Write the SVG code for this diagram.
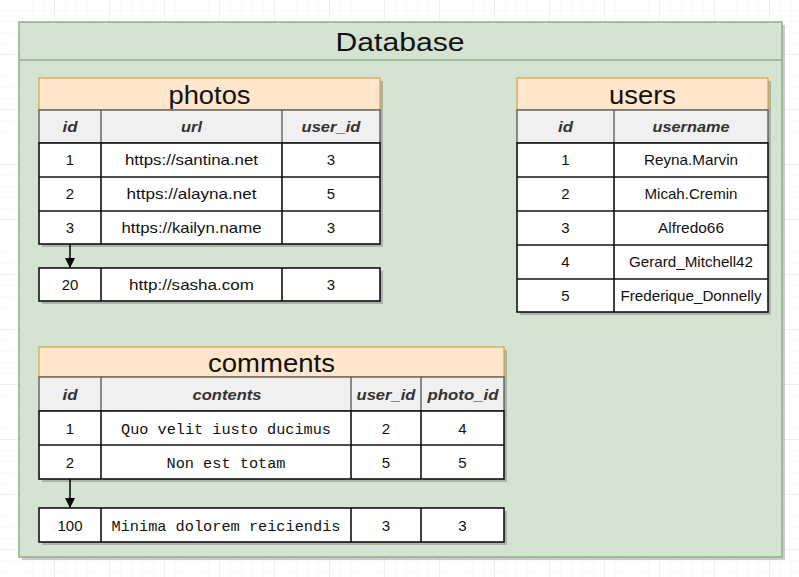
<svg xmlns="http://www.w3.org/2000/svg" width="799" height="577" viewBox="0 0 799 577">
<defs>
<pattern id="minor" width="11" height="11" patternUnits="userSpaceOnUse"><path d="M11 0V11M0 11H11" fill="none" stroke="#f4f4f4" stroke-width="1"/></pattern>
<pattern id="major" width="55" height="55" patternUnits="userSpaceOnUse"><path d="M55 0V55M0 55H55" fill="none" stroke="#e4e4e4" stroke-width="1"/></pattern>
<marker id="arr" viewBox="0 0 10 10" refX="9" refY="5" markerWidth="10" markerHeight="10" markerUnits="userSpaceOnUse" orient="auto"><path d="M0 0L10 5L0 10Z" fill="#000"/></marker>
</defs>
<style>
.sh{fill:#000;opacity:0.2}
.title{fill:#ffe6cc;stroke:#d6a84a;stroke-width:1.3}
.hdr{fill:#f0f0f0;stroke:#555;stroke-width:1.3}
.row{fill:#fff;stroke:#111;stroke-width:1.6}
.t{font-family:"Liberation Sans",Arial,sans-serif;text-anchor:middle;fill:#111}
.tt{font-size:26px}
.h{font-size:15px;font-weight:bold;font-style:italic;fill:#333}
.d{font-size:15px}
.m{font-family:"Liberation Mono","Courier New",monospace;font-size:14px;text-anchor:middle;fill:#111}
.ln{stroke:#111;stroke-width:1.6}
.hl{stroke:#555;stroke-width:1.3}
</style>
<rect width="799" height="577" fill="#fff"/>
<rect width="799" height="577" fill="url(#minor)"/>
<rect width="799" height="577" fill="url(#major)"/>

<g id="database">
<rect x="22" y="25" width="763" height="535" class="sh"/>
<rect x="19" y="22" width="763" height="535" fill="#d5e3d3" stroke="#8fad88" stroke-width="1.5"/>
<line x1="19" y1="60" x2="782" y2="60" stroke="#8fad88" stroke-width="1.5"/>
<text x="400" y="51" class="t" font-size="26" textLength="129" lengthAdjust="spacingAndGlyphs">Database</text>
</g>

<g id="photos">
<rect x="42" y="81" width="341" height="166" class="sh"/>
<rect x="39" y="78" width="341" height="32" class="title"/>
<text x="209.5" y="103.5" class="t tt" textLength="82" lengthAdjust="spacingAndGlyphs">photos</text>
<rect x="39" y="110" width="341" height="33" class="hdr"/>
<line x1="101" y1="110" x2="101" y2="143" class="hl"/>
<line x1="282" y1="110" x2="282" y2="143" class="hl"/>
<text x="70" y="132" class="t h" textLength="15" lengthAdjust="spacingAndGlyphs">id</text>
<text x="191.5" y="132" class="t h" textLength="21" lengthAdjust="spacingAndGlyphs">url</text>
<text x="331" y="132" class="t h" textLength="59" lengthAdjust="spacingAndGlyphs">user_id</text>
<rect x="39" y="143" width="341" height="101" class="row"/>
<line x1="39" y1="177" x2="380" y2="177" class="ln"/>
<line x1="39" y1="211" x2="380" y2="211" class="ln"/>
<line x1="101" y1="143" x2="101" y2="244" class="ln"/>
<line x1="282" y1="143" x2="282" y2="244" class="ln"/>
<text x="70" y="165" class="t d">1</text><text x="191.5" y="165" class="t d" textLength="133" lengthAdjust="spacingAndGlyphs">https://santina.net</text><text x="331" y="165" class="t d">3</text>
<text x="70" y="199" class="t d">2</text><text x="191.5" y="199" class="t d" textLength="130" lengthAdjust="spacingAndGlyphs">https://alayna.net</text><text x="331" y="199" class="t d">5</text>
<text x="70" y="232.5" class="t d">3</text><text x="191.5" y="232.5" class="t d" textLength="140" lengthAdjust="spacingAndGlyphs">https://kailyn.name</text><text x="331" y="232.5" class="t d">3</text>
</g>

<g id="photos-row-20">
<rect x="42" y="271" width="341" height="33" class="sh"/>
<rect x="39" y="268" width="341" height="33" class="row"/>
<line x1="101" y1="268" x2="101" y2="301" class="ln"/>
<line x1="282" y1="268" x2="282" y2="301" class="ln"/>
<text x="70" y="289.5" class="t d">20</text><text x="191.5" y="289.5" class="t d" textLength="125" lengthAdjust="spacingAndGlyphs">http://sasha.com</text><text x="331" y="289.5" class="t d">3</text>
</g>

<g id="users">
<rect x="520" y="81" width="251" height="234" class="sh"/>
<rect x="517" y="78" width="251" height="32" class="title"/>
<text x="642.5" y="103.5" class="t tt" textLength="67" lengthAdjust="spacingAndGlyphs">users</text>
<rect x="517" y="110" width="251" height="33" class="hdr"/>
<line x1="614" y1="110" x2="614" y2="143" class="hl"/>
<text x="565.5" y="132" class="t h" textLength="15" lengthAdjust="spacingAndGlyphs">id</text>
<text x="691" y="132" class="t h" textLength="77" lengthAdjust="spacingAndGlyphs">username</text>
<rect x="517" y="143" width="251" height="169" class="row"/>
<line x1="517" y1="177" x2="768" y2="177" class="ln"/>
<line x1="517" y1="211" x2="768" y2="211" class="ln"/>
<line x1="517" y1="245" x2="768" y2="245" class="ln"/>
<line x1="517" y1="279" x2="768" y2="279" class="ln"/>
<line x1="614" y1="143" x2="614" y2="312" class="ln"/>
<text x="565.5" y="165" class="t d">1</text><text x="691" y="165" class="t d" textLength="94" lengthAdjust="spacingAndGlyphs">Reyna.Marvin</text>
<text x="565.5" y="199" class="t d">2</text><text x="691" y="199" class="t d" textLength="93" lengthAdjust="spacingAndGlyphs">Micah.Cremin</text>
<text x="565.5" y="233" class="t d">3</text><text x="691" y="233" class="t d" textLength="66" lengthAdjust="spacingAndGlyphs">Alfredo66</text>
<text x="565.5" y="267" class="t d">4</text><text x="691" y="267" class="t d" textLength="124" lengthAdjust="spacingAndGlyphs">Gerard_Mitchell42</text>
<text x="565.5" y="300.5" class="t d">5</text><text x="691" y="300.5" class="t d" textLength="141" lengthAdjust="spacingAndGlyphs">Frederique_Donnelly</text>
</g>

<g id="comments">
<rect x="42" y="350" width="465" height="132" class="sh"/>
<rect x="39" y="347" width="465" height="30" class="title"/>
<text x="271.5" y="371.5" class="t tt" textLength="127" lengthAdjust="spacingAndGlyphs">comments</text>
<rect x="39" y="377" width="465" height="34" class="hdr"/>
<line x1="101" y1="377" x2="101" y2="411" class="hl"/>
<line x1="351" y1="377" x2="351" y2="411" class="hl"/>
<line x1="421" y1="377" x2="421" y2="411" class="hl"/>
<text x="70" y="399.5" class="t h" textLength="15" lengthAdjust="spacingAndGlyphs">id</text>
<text x="227" y="399.5" class="t h" textLength="69" lengthAdjust="spacingAndGlyphs">contents</text>
<text x="386" y="399.5" class="t h" textLength="59" lengthAdjust="spacingAndGlyphs">user_id</text>
<text x="463" y="399.5" class="t h" textLength="71" lengthAdjust="spacingAndGlyphs">photo_id</text>
<rect x="39" y="411" width="465" height="68" class="row"/>
<line x1="39" y1="445" x2="504" y2="445" class="ln"/>
<line x1="101" y1="411" x2="101" y2="479" class="ln"/>
<line x1="351" y1="411" x2="351" y2="479" class="ln"/>
<line x1="421" y1="411" x2="421" y2="479" class="ln"/>
<text x="70" y="433.5" class="t d">1</text><text x="226" y="433.5" class="m" textLength="210" lengthAdjust="spacingAndGlyphs">Quo velit iusto ducimus</text><text x="386" y="433.5" class="t d">2</text><text x="462.5" y="433.5" class="t d">4</text>
<text x="70" y="467.5" class="t d">2</text><text x="226" y="467.5" class="m" textLength="119" lengthAdjust="spacingAndGlyphs">Non est totam</text><text x="386" y="467.5" class="t d">5</text><text x="462.5" y="467.5" class="t d">5</text>
</g>

<g id="comments-row-100">
<rect x="42" y="511" width="465" height="34" class="sh"/>
<rect x="39" y="508" width="465" height="34" class="row"/>
<line x1="101" y1="508" x2="101" y2="542" class="ln"/>
<line x1="351" y1="508" x2="351" y2="542" class="ln"/>
<line x1="421" y1="508" x2="421" y2="542" class="ln"/>
<text x="70" y="530.5" class="t d">100</text><text x="226" y="530.5" class="m" textLength="229" lengthAdjust="spacingAndGlyphs">Minima dolorem reiciendis</text><text x="386" y="530.5" class="t d">3</text><text x="462.5" y="530.5" class="t d">3</text>
</g>

<g id="connectors">
<line x1="70" y1="244" x2="70" y2="267" stroke="#000" stroke-width="1.5" marker-end="url(#arr)"/>
<line x1="70" y1="479" x2="70" y2="507" stroke="#000" stroke-width="1.5" marker-end="url(#arr)"/>
</g>
</svg>
